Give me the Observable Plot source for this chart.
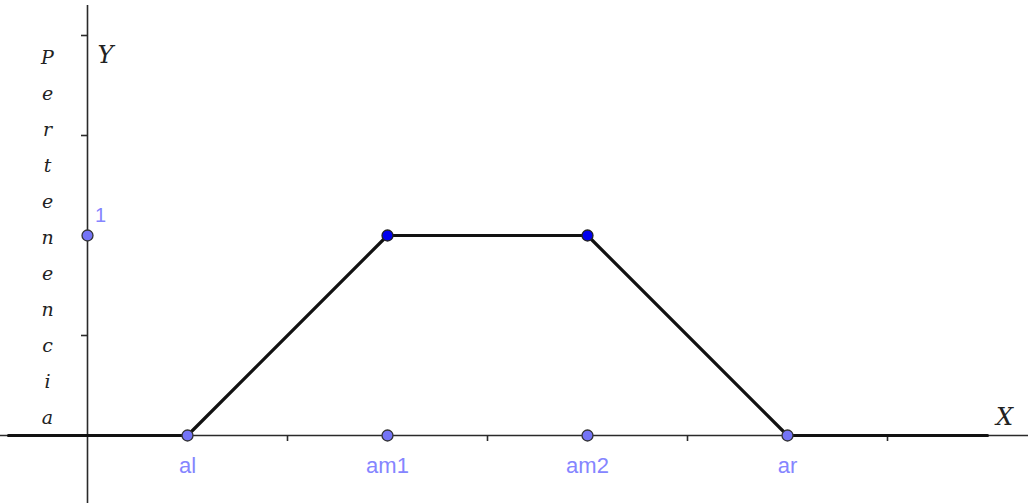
<!DOCTYPE html>
<html><head><meta charset="utf-8">
<script src="https://cdn.jsdelivr.net/npm/d3@7"></script>
<script src="https://cdn.jsdelivr.net/npm/@observablehq/plot@0.6"></script>
<style>html,body{margin:0;padding:0;background:#fff;} svg{display:block;}</style>
</head><body>
<div id="chart"></div>
<script>
// Data
const pointNames = ["al", "am1", "am2", "ar"];
const pointX = [1, 3, 5, 7];
const shapeX = [-0.79, 1, 3, 5, 7, 9];
const shapeY = [0, 0, 1, 1, 0, 0];
const xTicks = [2, 4, 6, 8];
const yTicks = [0.5, 1.5, 2];
const yAxisLabel = "Pertenencia";
const unitLabel = "1";

const shape = shapeX.map((x, i) => ({x, y: shapeY[i]}));
const keyPts = pointX.map((x, i) => ({x, name: pointNames[i]}));
const topPts = shape.filter(d => d.y === 1);

const light = "#7474f6";
const labelC = "#8585ff";
const axisC = "#2a2a2a";

const chart = Plot.plot({
  width: 1028, height: 503,
  margin: 0,
  x: {domain: [-0.87, 9.41], axis: null},
  y: {domain: [-0.34, 2.175], axis: null},
  marks: [
    Plot.ruleY([0], {x1: -0.87, x2: 9.41, stroke: axisC, strokeWidth: 1.6}),
    Plot.ruleX([0], {y1: -0.34, y2: 2.15, stroke: axisC, strokeWidth: 1.6}),
    Plot.ruleX(xTicks, {x: d => d, y1: 0, y2: -0.03, stroke: axisC, strokeWidth: 1.6}),
    Plot.ruleY(yTicks, {y: d => d, x1: -0.06, x2: 0, stroke: axisC, strokeWidth: 1.6}),
    Plot.line(shape, {x: "x", y: "y", stroke: "#111", strokeWidth: 3.2}),
    Plot.dot(keyPts, {x: "x", y: 0, r: 5.5, fill: light, stroke: "#333", strokeWidth: 1.3}),
    Plot.dot([unitLabel], {x: 0, y: 1, r: 5.5, fill: light, stroke: "#333", strokeWidth: 1.3}),
    Plot.dot(topPts, {x: "x", y: "y", r: 5.5, fill: "#0000ee", stroke: "#222", strokeWidth: 1.3}),
    Plot.text(keyPts, {x: "x", y: 0, text: "name", dy: 30, fill: labelC, fontSize: 22, fontFamily: "Liberation Sans, Arial, sans-serif"}),
    Plot.text([unitLabel], {x: 0, y: 1, text: d => d, dx: 13, dy: -20, fill: labelC, fontSize: 20, fontFamily: "Liberation Sans, Arial, sans-serif"}),
    Plot.text(["Y"], {x: 0, y: 2.15, text: d => d, dx: 18, dy: 50, fontSize: 24, fontStyle: "italic", fill: "#222", fontFamily: "DejaVu Serif, serif"}),
    Plot.text(["X"], {x: 9.41, y: 0, text: d => d, dx: -24, dy: -18, fontSize: 24, fontStyle: "italic", fill: "#222", fontFamily: "DejaVu Serif, serif"}),
    Plot.text([yAxisLabel], {x: -0.4, y: 1, text: d => d.split("").join("\n"), lineHeight: 36 / 19, lineAnchor: "middle", dy: -3, fontSize: 19, fontStyle: "italic", fill: "#222", fontFamily: "DejaVu Serif, serif"})
  ]
});
document.getElementById("chart").appendChild(chart);
</script>
</body></html>
